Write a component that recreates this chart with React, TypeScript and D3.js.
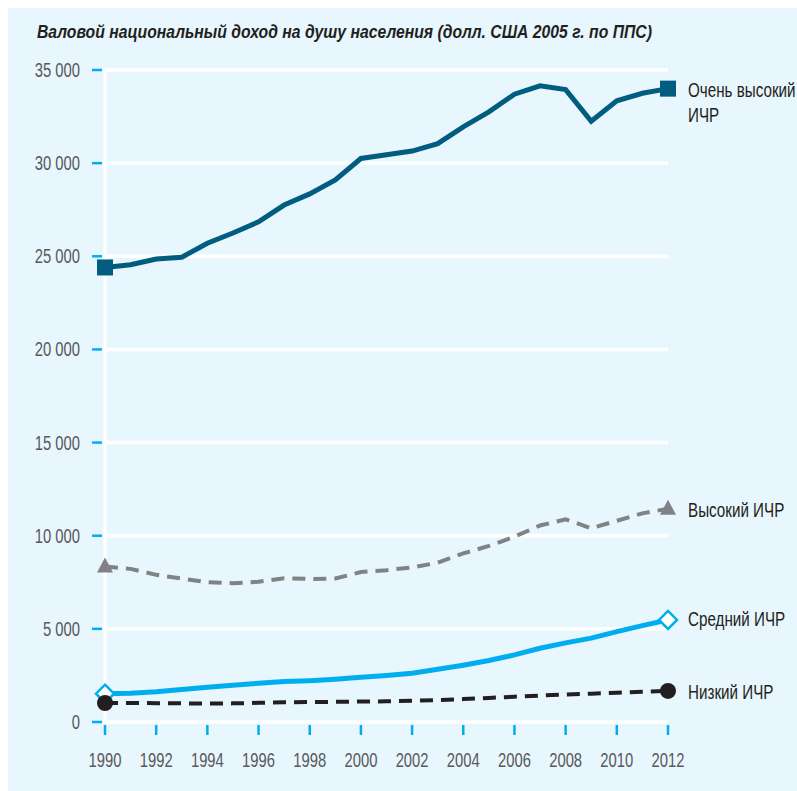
import React from "react";
import * as d3 from "d3";

const years = d3.range(1990, 2013);
const veryHigh = [24400, 24550, 24850, 24950, 25700, 26250, 26850, 27750, 28350, 29100, 30250, 30450, 30650, 31050, 31950, 32750, 33700, 34150, 33950, 32250, 33350, 33750, 34000];
const high = [8350, 8220, 7900, 7700, 7500, 7450, 7530, 7720, 7680, 7700, 8050, 8150, 8300, 8550, 9050, 9450, 9950, 10550, 10880, 10400, 10800, 11200, 11450];
const medium = [1520, 1540, 1620, 1740, 1860, 1970, 2080, 2170, 2220, 2300, 2400, 2500, 2620, 2830, 3050, 3300, 3600, 3960, 4250, 4500, 4850, 5170, 5480];
const low = [1020, 1020, 1010, 1000, 990, 1000, 1030, 1060, 1070, 1080, 1100, 1110, 1140, 1180, 1230, 1290, 1360, 1420, 1470, 1520, 1570, 1620, 1670];
const yTicks = [0, 5000, 10000, 15000, 20000, 25000, 30000, 35000];
const xTicks = d3.range(1990, 2013, 2);
const title = "Валовой национальный доход на душу населения (долл. США 2005 г. по ППС)";

const FONT = "'Liberation Sans', Arial, sans-serif";

function CText({ x, y, sx = 0.76, children, ...rest }: any) {
  return (
    <g transform={`translate(${x},${y}) scale(${sx},1)`}>
      <text x={0} y={0} {...rest}>
        {children}
      </text>
    </g>
  );
}

export default function App() {
  const W = 797, H = 791;
  const x = d3.scaleLinear().domain([1990, 2012]).range([105, 668]);
  const y = d3.scaleLinear().domain([0, 35000]).range([722, 70]);
  const line = d3.line<number>().x((_, i) => x(years[i])).y((d) => y(d));
  const fmt = (v: number) => (v >= 1000 ? d3.format(",")(v).replace(",", " ") : String(v));
  const lastX = x(2012);
  const firstX = x(1990);

  return (
    <svg width={W} height={H} style={{ display: "block", position: "absolute", left: 0, top: 0 }} fontFamily={FONT}>
      <rect x={8} y={8} width={W - 8} height={H - 8} fill="#e8f6fd" />
      <CText x={37} y={38} sx={0.9} fontSize={17.5} fontWeight="bold" fontStyle="italic" fill="#231f20">
        {title}
      </CText>
      {yTicks.map((t) => (
        <g key={t}>
          <line x1={x(1990)} x2={x(2012)} y1={y(t)} y2={y(t)} stroke="#fff" strokeWidth={3.5} />
          <line x1={92} x2={102} y1={y(t)} y2={y(t)} stroke="#00aeef" strokeWidth={2.5} />
          <CText x={80} y={y(t) + 7} textAnchor="end" fontSize={19.5} fill="#58595b">
            {fmt(t)}
          </CText>
        </g>
      ))}
      <line x1={x(1990)} x2={x(1990)} y1={y(35000) - 2} y2={y(0) + 2} stroke="#fff" strokeWidth={3.5} />
      {xTicks.map((t) => (
        <g key={t}>
          <line x1={x(t)} x2={x(t)} y1={725} y2={735} stroke="#00aeef" strokeWidth={2.5} />
          <CText x={x(t)} y={767} textAnchor="middle" fontSize={19.5} fill="#58595b">
            {t}
          </CText>
        </g>
      ))}

      <path d={line(low) || ""} fill="none" stroke="#231f20" strokeWidth={4} strokeDasharray="13 8" />
      <path d={line(high) || ""} fill="none" stroke="#808285" strokeWidth={4} strokeDasharray="13 8" />
      <path d={line(medium) || ""} fill="none" stroke="#00aeef" strokeWidth={5} />
      <path d={line(veryHigh) || ""} fill="none" stroke="#005d80" strokeWidth={5} />

      {[firstX, lastX].map((px, k) => {
        const v = k === 0 ? veryHigh[0] : veryHigh[veryHigh.length - 1];
        return <rect key={"s" + k} x={px - 8} y={y(v) - 8} width={16} height={16} fill="#005d80" />;
      })}
      {[0, high.length - 1].map((i) => {
        const cx = x(years[i]);
        const cy = y(high[i]);
        return <path key={"t" + i} d={`M${cx},${cy - 9} L${cx + 8},${cy + 6} L${cx - 8},${cy + 6} Z`} fill="#808285" />;
      })}
      {[0, medium.length - 1].map((i) => {
        const cx = x(years[i]);
        const cy = y(medium[i]);
        return <path key={"d" + i} d={`M${cx},${cy - 9} L${cx + 9},${cy} L${cx},${cy + 9} L${cx - 9},${cy} Z`} fill="#fff" stroke="#00aeef" strokeWidth={2.5} />;
      })}
      {[0, low.length - 1].map((i) => (
        <circle key={"c" + i} cx={x(years[i])} cy={y(low[i])} r={8} fill="#231f20" />
      ))}

      <CText x={688} y={97} fontSize={20} fill="#231f20">Очень высокий</CText>
      <CText x={688} y={122} fontSize={20} fill="#231f20">ИЧР</CText>
      <CText x={688} y={517} fontSize={20} fill="#231f20">Высокий ИЧР</CText>
      <CText x={688} y={626} fontSize={20} fill="#231f20">Средний ИЧР</CText>
      <CText x={688} y={699} fontSize={20} fill="#231f20">Низкий ИЧР</CText>
    </svg>
  );
}
